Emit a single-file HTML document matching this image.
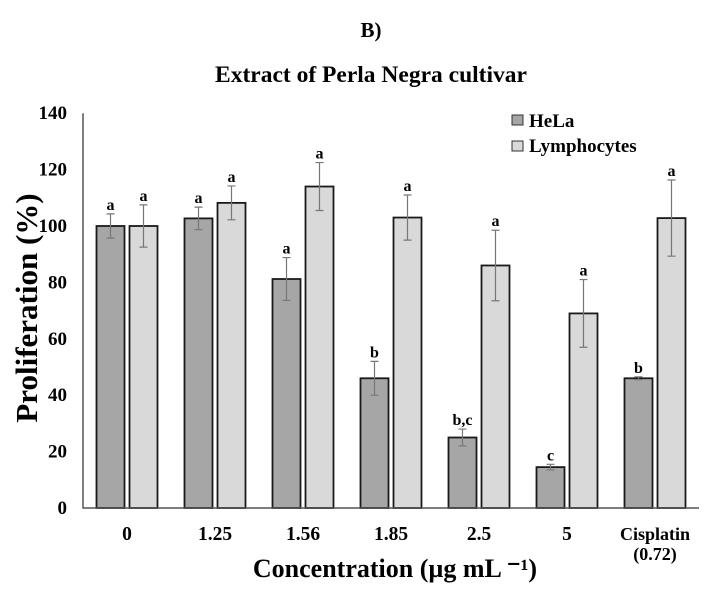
<!DOCTYPE html>
<html><head><meta charset="utf-8"><style>
html,body{margin:0;padding:0;background:#fff;}
svg{display:block;font-family:"Liberation Serif",serif;font-weight:bold;}
</style></head><body>
<svg id="chart" width="714" height="589" viewBox="0 0 714 589">
<text x="371" y="37" text-anchor="middle" font-size="21">B)</text>
<text x="371" y="82" text-anchor="middle" font-size="23.5">Extract of Perla Negra cultivar</text>
<text transform="translate(37,308) rotate(-90)" text-anchor="middle" font-size="31">Proliferation (%)</text>
<text x="395" y="577" text-anchor="middle" font-size="26">Concentration (µg mL ⁻¹)</text>
<g>
<rect x="512" y="115" width="11" height="10" fill="#a6a6a6" stroke="#333"/>
<text x="529" y="127" font-size="19">HeLa</text>
<rect x="512" y="141" width="11" height="10" fill="#d9d9d9" stroke="#333"/>
<text x="529" y="152" font-size="19">Lymphocytes</text>
</g>
<g id="plot"></g>
</svg>
<script>
const categories=["0","1.25","1.56","1.85","2.5","5","Cisplatin"];
const helaValues=[100,102.7,81.2,46,25,14.5,46];
const helaErrors=[4.3,4,7.6,6,3,1,0.5];
const helaLetters=["a","a","a","b","b,c","c","b"];
const lymphValues=[100,108.2,114,103,86,69,102.8];
const lymphErrors=[7.5,6,8.5,8,12.5,12,13.5];
const lymphLetters=["a","a","a","a","a","a","a"];
const yTicks=[0,20,40,60,80,100,120,140];

const NS="http://www.w3.org/2000/svg";
const g=document.getElementById('plot');
const x0=83,band=88,yBase=508,pxPerUnit=2.82,barW=28,gap=5;
const y=v=>yBase-v*pxPerUnit;
const xc=i=>x0+band*i+band/2;
function mk(tag,attrs){const e=document.createElementNS(NS,tag);for(const k in attrs)e.setAttribute(k,attrs[k]);g.appendChild(e);return e;}

yTicks.forEach(t=>{
  const e=mk('text',{x:67,y:y(t)+6,'text-anchor':'end','font-size':19});
  e.textContent=t;
  
  
});
categories.forEach((c,i)=>{
  const e=mk('text',{x:xc(i),y:540,'text-anchor':'middle','font-size':c==="Cisplatin"?18:19.5});
  e.textContent=c;
  
  
  if(c==="Cisplatin"){
    const e2=mk('text',{x:xc(i),y:560,'text-anchor':'middle','font-size':18});
    e2.textContent="(0.72)";
    
    
  }
});
function series(vals,errs,letters,fill,off,name){
  vals.forEach((v,i)=>{
    const bx=xc(i)+off;
    const r=mk('rect',{x:bx,y:y(v),width:barW,height:yBase-y(v),fill:fill,stroke:'#1a1a1a','stroke-width':1.8});
    
    
    const cx=bx+barW/2,t=y(v+errs[i]),b=y(v-errs[i]);
    const l=mk('path',{d:`M${cx},${t}V${b}M${cx-4},${t}H${cx+4}M${cx-4},${b}H${cx+4}`,stroke:'#777','stroke-width':1.2,fill:'none'});
    
    
    const tx=mk('text',{x:cx,y:t-4,'text-anchor':'middle','font-size':16});
    tx.textContent=letters[i];
    
    
  });
}
series(helaValues,helaErrors,helaLetters,'#a6a6a6',-barW-gap/2,'hela');
series(lymphValues,lymphErrors,lymphLetters,'#d9d9d9',gap/2,'lymphocytes');
const ax=mk('path',{d:`M${x0},${y(140)}V${yBase}H${x0+band*7}`,stroke:'#555','stroke-width':1.5,fill:'none'});


</script>
</body></html>
